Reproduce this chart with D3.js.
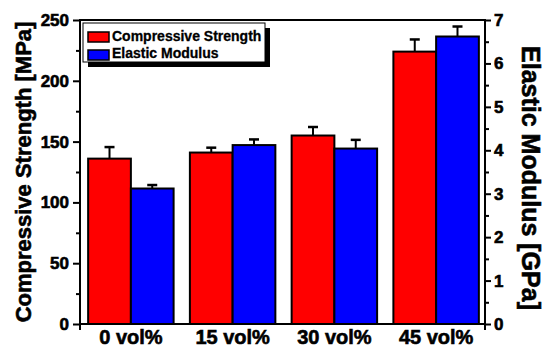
<!DOCTYPE html>
<html>
<head>
<meta charset="utf-8">
<script src="https://cdn.jsdelivr.net/npm/d3@7"></script>
<style>
  body { margin: 0; background: #fff; }
  svg text { font-family: "Liberation Sans", Arial, sans-serif; font-weight: bold;
             stroke: #000; stroke-width: 0.6px; }
</style>
</head>
<body>
<svg id="chart" width="544" height="348"></svg>
<script>
var categories = ['0 vol%', '15 vol%', '30 vol%', '45 vol%'];
var strength = [136, 141, 155, 224];
var strengthErr = [9.5, 4, 7, 10];
var modulus = [3.12, 4.12, 4.04, 6.62];
var modulusErr = [0.08, 0.13, 0.2, 0.23];
var leftTicks = [0, 50, 100, 150, 200, 250];
var rightTicks = [0, 1, 2, 3, 4, 5, 6, 7];

var svg = d3.select('#chart');
var plotL = 80, plotR = 485, plotT = 20, plotB = 324;

var x0 = d3.scaleBand().domain(categories).range([plotL, 487])
           .paddingInner(0.16).paddingOuter(0.08);
var x1 = d3.scaleBand().domain(['s', 'm']).range([0, x0.bandwidth()]);
var yL = d3.scaleLinear().domain([0, 250]).range([plotB, plotT]);
var yR = d3.scaleLinear().domain([0, 7]).range([plotB, plotT]);

var rows = categories.map(function(c, i) {
  return {cat: c, s: strength[i], se: strengthErr[i], m: modulus[i], me: modulusErr[i]};
});

// bars
var g = svg.append('g');
rows.forEach(function(d) {
  g.append('rect')
   .attr('x', x0(d.cat) + x1('s'))
   .attr('y', yL(d.s))
   .attr('width', x1.bandwidth())
   .attr('height', plotB - yL(d.s))
   .attr('fill', '#ff0000').attr('stroke', '#000').attr('stroke-width', 2);
  g.append('rect')
   .attr('x', x0(d.cat) + x1('m'))
   .attr('y', yR(d.m))
   .attr('width', x1.bandwidth())
   .attr('height', plotB - yR(d.m))
   .attr('fill', '#0000ff').attr('stroke', '#000').attr('stroke-width', 2);

  // error bars (upper only)
  var cs = x0(d.cat) + x1('s') + x1.bandwidth() / 2;
  var cm = x0(d.cat) + x1('m') + x1.bandwidth() / 2;
  [[cs, yL(d.s), yL(d.s + d.se)], [cm, yR(d.m), yR(d.m + d.me)]].forEach(function(e) {
    g.append('line').attr('x1', e[0]).attr('x2', e[0]).attr('y1', e[1]).attr('y2', e[2])
     .attr('stroke', '#000').attr('stroke-width', 2);
    g.append('line').attr('x1', e[0] - 5).attr('x2', e[0] + 5).attr('y1', e[2]).attr('y2', e[2])
     .attr('stroke', '#000').attr('stroke-width', 2.5);
  });
});

// frame
svg.append('line').attr('x1', plotL).attr('x2', plotR).attr('y1', plotT).attr('y2', plotT)
   .attr('stroke', '#000').attr('stroke-width', 2);
svg.append('line').attr('x1', plotL).attr('x2', plotR).attr('y1', plotB).attr('y2', plotB)
   .attr('stroke', '#000').attr('stroke-width', 2);
svg.append('line').attr('x1', plotL).attr('x2', plotL).attr('y1', plotT - 1).attr('y2', 330)
   .attr('stroke', '#000').attr('stroke-width', 2);
svg.append('line').attr('x1', plotR).attr('x2', plotR).attr('y1', plotT - 1).attr('y2', 330)
   .attr('stroke', '#000').attr('stroke-width', 2);

// left axis
var axL = svg.append('g').attr('transform', 'translate(' + plotL + ',0)')
  .call(d3.axisLeft(yL).tickValues(leftTicks).tickSize(7).tickPadding(4));
var axLm = svg.append('g').attr('transform', 'translate(' + plotL + ',0)')
  .call(d3.axisLeft(yL).tickValues([25, 75, 125, 175, 225]).tickSize(4).tickFormat(''));
// right axis
var axR = svg.append('g').attr('transform', 'translate(' + plotR + ',0)')
  .call(d3.axisRight(yR).tickValues(rightTicks).tickSize(6).tickPadding(3).tickFormat(d3.format('d')));
var axRm = svg.append('g').attr('transform', 'translate(' + plotR + ',0)')
  .call(d3.axisRight(yR).tickValues([0.5, 1.5, 2.5, 3.5, 4.5, 5.5, 6.5]).tickSize(4).tickFormat(''));
// bottom labels
var axB = svg.append('g').attr('transform', 'translate(0,' + plotB + ')')
  .call(d3.axisBottom(x0).tickSize(0).tickPadding(0));

[axL, axLm, axR, axRm, axB].forEach(function(a) {
  a.select('.domain').remove();
  a.selectAll('.tick line').attr('stroke', '#000').attr('stroke-width', 2);
  a.selectAll('text').attr('fill', '#000').style('font-family', '"Liberation Sans", Arial, sans-serif')
   .style('font-weight', 'bold');
});
axL.selectAll('text').style('font-size', '17px');
axR.selectAll('text').style('font-size', '17px');
axB.selectAll('text').style('font-size', '20px').attr('y', 20).attr('dy', null);

// axis titles
svg.append('text')
   .attr('transform', 'translate(31,' + (plotT + plotB) / 2 + ') rotate(-90)')
   .attr('text-anchor', 'middle').style('font-size', '22px')
   .text('Compressive Strength [MPa]');
svg.append('text')
   .attr('transform', 'translate(522,178) rotate(90)')
   .attr('text-anchor', 'middle').style('font-size', '25px')
   .text('Elastic Modulus [GPa]');

// legend
var lg = svg.append('g');
lg.append('rect').attr('x', 88).attr('y', 28).attr('width', 182).attr('height', 39).attr('fill', '#000');
lg.append('rect').attr('x', 83).attr('y', 23).attr('width', 182).attr('height', 39)
  .attr('fill', '#fff').attr('stroke', '#000').attr('stroke-width', 1);
var legendItems = [['Compressive Strength', '#ff0000'], ['Elastic Modulus', '#0000ff']];
legendItems.forEach(function(it, i) {
  lg.append('rect').attr('x', 88).attr('y', 32 + i * 18).attr('width', 21).attr('height', 10)
    .attr('fill', it[1]).attr('stroke', '#000').attr('stroke-width', 1.5);
  lg.append('text').attr('x', 112).attr('y', 41 + i * 17).style('font-size', '14px')
    .style('stroke-width', '0.3px').text(it[0]);
});
</script>
</body>
</html>
